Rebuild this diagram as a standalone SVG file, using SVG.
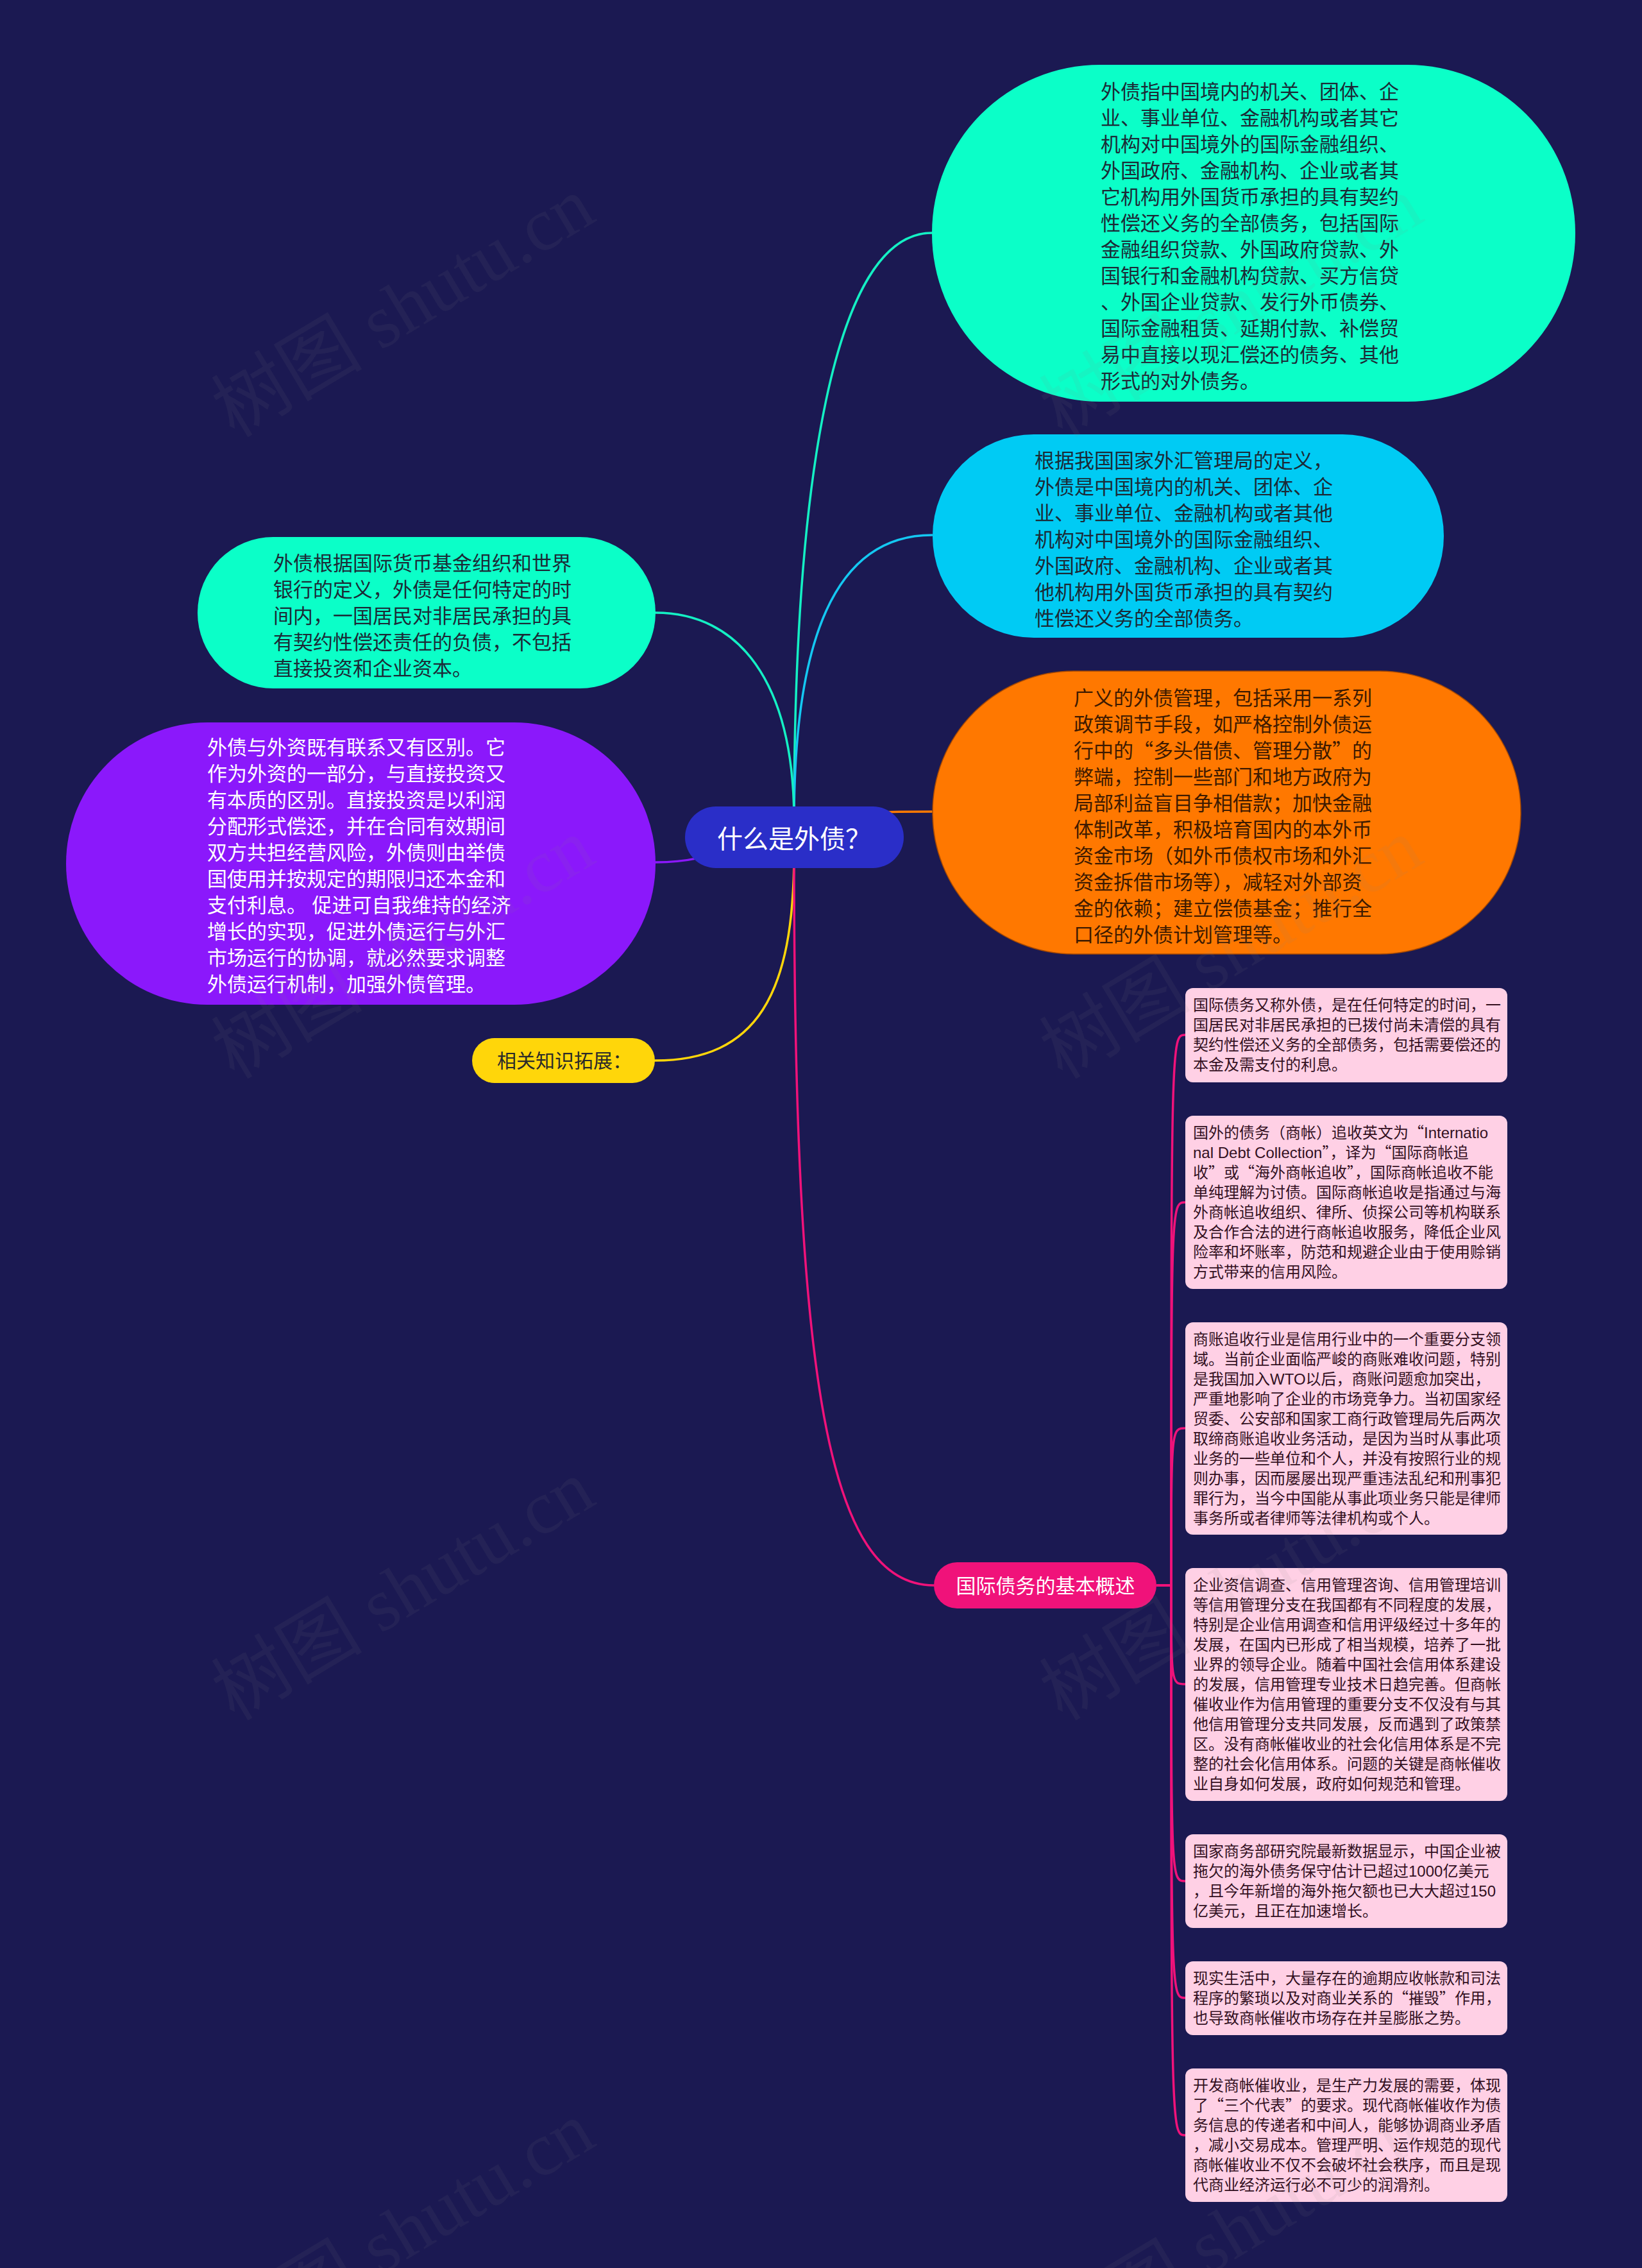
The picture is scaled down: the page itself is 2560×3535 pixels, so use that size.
<svg xmlns="http://www.w3.org/2000/svg" width="2560" height="3535" viewBox="0 0 2560 3535">
<style>
text{font-family:"Liberation Sans","Noto Sans CJK SC",sans-serif;}
.q{font-family:"Noto Sans CJK SC","Liberation Sans",sans-serif;}
.t31{font-size:31px;}
.t24{font-size:24px;fill:#33101f;}
.dk{fill:#1b2a36;}
.dko{fill:#3d1a00;}
.wh{fill:#ffffff;}
.c{fill:none;stroke-width:3.5;stroke-linecap:round;}
.leaf{fill:#ffd0e5;}
.lc{fill:none;stroke:#f0127a;stroke-width:3.5;}
.wm{font-family:"Liberation Serif","Noto Sans CJK SC",serif;font-size:118px;fill:#808080;fill-opacity:0.09;}
</style>
<rect x="0" y="0" width="2560" height="3535" fill="#1b1952"/>

<g id="connectors">
<path class="c" stroke="#14f0c4" d="M1238 1280 C1238 750 1300 363 1453 363"/>
<path class="c" stroke="#14c8f2" d="M1238 1280 C1238 1000 1300 834 1453 834"/>
<path class="c" stroke="#ff7a00" d="M1238 1268 C1350 1268 1350 1265 1453 1265"/>
<path class="c" stroke="#14f0c4" d="M1022 955 C1150 955 1238 1060 1238 1280"/>
<path class="c" stroke="#8b18fb" d="M1022 1344 C1130 1344 1130 1305 1238 1305"/>
<path class="c" stroke="#ffd60a" d="M1021 1653 C1180 1653 1238 1550 1238 1330"/>
<path class="c" stroke="#f0127a" d="M1238 1330 C1238 2150 1290 2471 1456 2471"/>
<path class="lc" d="M1803 2471 L1826 2471 C1826 1613 1826 1613 1848 1613"/>
<path class="lc" d="M1803 2471 L1826 2471 C1826 1874 1826 1874 1848 1874"/>
<path class="lc" d="M1803 2471 L1826 2471 C1826 2226 1826 2226 1848 2226"/>
<path class="lc" d="M1803 2471 L1826 2471 C1826 2625 1826 2625 1848 2625"/>
<path class="lc" d="M1803 2471 L1826 2471 C1826 2932 1826 2932 1848 2932"/>
<path class="lc" d="M1803 2471 L1826 2471 C1826 3114 1826 3114 1848 3114"/>
<path class="lc" d="M1803 2471 L1826 2471 C1826 3328 1826 3328 1848 3328"/>
</g>

<g id="center">
<rect x="1068" y="1257" width="341" height="96" rx="48" fill="#2a2ec8"/>
<text x="1238" y="1322" font-size="40" text-anchor="middle" class="wh">什么是外债？</text>
</g>

<g id="node-tr">
<rect x="1453" y="101" width="1003" height="525" rx="262" fill="#0bffc8"/>
<text class="t31 dk">
<tspan x="1716" y="154">外债指中国境内的机关、团体、企</tspan>
<tspan x="1716" y="195">业、事业单位、金融机构或者其它</tspan>
<tspan x="1716" y="236">机构对中国境外的国际金融组织、</tspan>
<tspan x="1716" y="277">外国政府、金融机构、企业或者其</tspan>
<tspan x="1716" y="318">它机构用外国货币承担的具有契约</tspan>
<tspan x="1716" y="359">性偿还义务的全部债务，包括国际</tspan>
<tspan x="1716" y="400">金融组织贷款、外国政府贷款、外</tspan>
<tspan x="1716" y="441">国银行和金融机构贷款、买方信贷</tspan>
<tspan x="1716" y="482">、外国企业贷款、发行外币债券、</tspan>
<tspan x="1716" y="523">国际金融租赁、延期付款、补偿贸</tspan>
<tspan x="1716" y="564">易中直接以现汇偿还的债务、其他</tspan>
<tspan x="1716" y="605">形式的对外债务。</tspan>
</text>
</g>

<g id="node-cyan">
<rect x="1454" y="677" width="797" height="317" rx="158" fill="#00cbf4"/>
<text class="t31 dk">
<tspan x="1613" y="729">根据我国国家外汇管理局的定义，</tspan>
<tspan x="1613" y="770">外债是中国境内的机关、团体、企</tspan>
<tspan x="1613" y="811">业、事业单位、金融机构或者其他</tspan>
<tspan x="1613" y="852">机构对中国境外的国际金融组织、</tspan>
<tspan x="1613" y="893">外国政府、金融机构、企业或者其</tspan>
<tspan x="1613" y="934">他机构用外国货币承担的具有契约</tspan>
<tspan x="1613" y="975">性偿还义务的全部债务。</tspan>
</text>
</g>

<g id="node-orange">
<rect x="1454" y="1046" width="917" height="441" rx="220" fill="#ff7800" stroke="#a84a00" stroke-width="1.5"/>
<text class="t31 dko">
<tspan x="1674" y="1099">广义的外债管理，包括采用一系列</tspan>
<tspan x="1674" y="1140">政策调节手段，如严格控制外债运</tspan>
<tspan x="1674" y="1181" class="q">行中的“多头借债、管理分散”的</tspan>
<tspan x="1674" y="1222">弊端，控制一些部门和地方政府为</tspan>
<tspan x="1674" y="1263">局部利益盲目争相借款；加快金融</tspan>
<tspan x="1674" y="1304">体制改革，积极培育国内的本外币</tspan>
<tspan x="1674" y="1345">资金市场（如外币债权市场和外汇</tspan>
<tspan x="1674" y="1386">资金拆借市场等），减轻对外部资</tspan>
<tspan x="1674" y="1427">金的依赖；建立偿债基金；推行全</tspan>
<tspan x="1674" y="1468">口径的外债计划管理等。</tspan>
</text>
</g>

<g id="node-left-teal">
<rect x="308" y="837" width="714" height="236" rx="118" fill="#0bffc8"/>
<text class="t31 dk">
<tspan x="426" y="889">外债根据国际货币基金组织和世界</tspan>
<tspan x="426" y="930">银行的定义，外债是任何特定的时</tspan>
<tspan x="426" y="971">间内，一国居民对非居民承担的具</tspan>
<tspan x="426" y="1012">有契约性偿还责任的负债，不包括</tspan>
<tspan x="426" y="1053">直接投资和企业资本。</tspan>
</text>
</g>

<g id="node-purple">
<rect x="103" y="1126" width="919" height="440" rx="220" fill="#8b18fb"/>
<text class="t31 wh">
<tspan x="323" y="1176">外债与外资既有联系又有区别。它</tspan>
<tspan x="323" y="1217">作为外资的一部分，与直接投资又</tspan>
<tspan x="323" y="1258">有本质的区别。直接投资是以利润</tspan>
<tspan x="323" y="1299">分配形式偿还，并在合同有效期间</tspan>
<tspan x="323" y="1340">双方共担经营风险，外债则由举债</tspan>
<tspan x="323" y="1381">国使用并按规定的期限归还本金和</tspan>
<tspan x="323" y="1422">支付利息。 促进可自我维持的经济</tspan>
<tspan x="323" y="1463">增长的实现，促进外债运行与外汇</tspan>
<tspan x="323" y="1504">市场运行的协调，就必然要求调整</tspan>
<tspan x="323" y="1545">外债运行机制，加强外债管理。</tspan>
</text>
</g>

<g id="node-yellow">
<rect x="736" y="1618" width="285" height="70" rx="35" fill="#ffd60a"/>
<text x="880" y="1664" font-size="30" text-anchor="middle" fill="#2a2a2a">相关知识拓展：</text>
</g>

<g id="node-pink">
<rect x="1456" y="2435" width="347" height="72" rx="36" fill="#f0127a"/>
<text x="1630" y="2483" text-anchor="middle" class="t31 wh">国际债务的基本概述</text>
</g>

<g id="leaf-1">
<rect class="leaf" x="1848" y="1540" width="502" height="147" rx="12"/>
<text class="t24">
<tspan x="1860" y="1575">国际债务又称外债，是在任何特定的时间，一</tspan>
<tspan x="1860" y="1606">国居民对非居民承担的已拨付尚未清偿的具有</tspan>
<tspan x="1860" y="1637">契约性偿还义务的全部债务，包括需要偿还的</tspan>
<tspan x="1860" y="1668">本金及需支付的利息。</tspan>
</text>
</g>

<g id="leaf-2">
<rect class="leaf" x="1848" y="1739" width="502" height="270" rx="12"/>
<text class="t24">
<tspan x="1860" y="1774">国外的债务（商帐）追收英文为<tspan class="q">“</tspan>Internatio</tspan>
<tspan x="1860" y="1805">nal Debt Collection<tspan class="q">”</tspan>，译为<tspan class="q">“</tspan>国际商帐追</tspan>
<tspan x="1860" y="1836" class="q">收”或“海外商帐追收”，国际商帐追收不能</tspan>
<tspan x="1860" y="1867">单纯理解为讨债。国际商帐追收是指通过与海</tspan>
<tspan x="1860" y="1898">外商帐追收组织、律所、侦探公司等机构联系</tspan>
<tspan x="1860" y="1929">及合作合法的进行商帐追收服务，降低企业风</tspan>
<tspan x="1860" y="1960">险率和坏账率，防范和规避企业由于使用赊销</tspan>
<tspan x="1860" y="1991">方式带来的信用风险。</tspan>
</text>
</g>

<g id="leaf-3">
<rect class="leaf" x="1848" y="2061" width="502" height="331" rx="12"/>
<text class="t24">
<tspan x="1860" y="2096">商账追收行业是信用行业中的一个重要分支领</tspan>
<tspan x="1860" y="2127">域。当前企业面临严峻的商账难收问题，特别</tspan>
<tspan x="1860" y="2158">是我国加入WTO以后，商账问题愈加突出，</tspan>
<tspan x="1860" y="2189">严重地影响了企业的市场竞争力。当初国家经</tspan>
<tspan x="1860" y="2220">贸委、公安部和国家工商行政管理局先后两次</tspan>
<tspan x="1860" y="2251">取缔商账追收业务活动，是因为当时从事此项</tspan>
<tspan x="1860" y="2282">业务的一些单位和个人，并没有按照行业的规</tspan>
<tspan x="1860" y="2313">则办事，因而屡屡出现严重违法乱纪和刑事犯</tspan>
<tspan x="1860" y="2344">罪行为，当今中国能从事此项业务只能是律师</tspan>
<tspan x="1860" y="2375">事务所或者律师等法律机构或个人。</tspan>
</text>
</g>

<g id="leaf-4">
<rect class="leaf" x="1848" y="2444" width="502" height="363" rx="12"/>
<text class="t24">
<tspan x="1860" y="2479">企业资信调查、信用管理咨询、信用管理培训</tspan>
<tspan x="1860" y="2510">等信用管理分支在我国都有不同程度的发展，</tspan>
<tspan x="1860" y="2541">特别是企业信用调查和信用评级经过十多年的</tspan>
<tspan x="1860" y="2572">发展，在国内已形成了相当规模，培养了一批</tspan>
<tspan x="1860" y="2603">业界的领导企业。随着中国社会信用体系建设</tspan>
<tspan x="1860" y="2634">的发展，信用管理专业技术日趋完善。但商帐</tspan>
<tspan x="1860" y="2665">催收业作为信用管理的重要分支不仅没有与其</tspan>
<tspan x="1860" y="2696">他信用管理分支共同发展，反而遇到了政策禁</tspan>
<tspan x="1860" y="2727">区。没有商帐催收业的社会化信用体系是不完</tspan>
<tspan x="1860" y="2758">整的社会化信用体系。问题的关键是商帐催收</tspan>
<tspan x="1860" y="2789">业自身如何发展，政府如何规范和管理。</tspan>
</text>
</g>

<g id="leaf-5">
<rect class="leaf" x="1848" y="2859" width="502" height="146" rx="12"/>
<text class="t24">
<tspan x="1860" y="2894">国家商务部研究院最新数据显示，中国企业被</tspan>
<tspan x="1860" y="2925">拖欠的海外债务保守估计已超过1000亿美元</tspan>
<tspan x="1860" y="2956">，且今年新增的海外拖欠额也已大大超过150</tspan>
<tspan x="1860" y="2987">亿美元，且正在加速增长。</tspan>
</text>
</g>

<g id="leaf-6">
<rect class="leaf" x="1848" y="3057" width="502" height="115" rx="12"/>
<text class="t24">
<tspan x="1860" y="3092">现实生活中，大量存在的逾期应收帐款和司法</tspan>
<tspan x="1860" y="3123" class="q">程序的繁琐以及对商业关系的“摧毁”作用，</tspan>
<tspan x="1860" y="3154">也导致商帐催收市场存在并呈膨胀之势。</tspan>
</text>
</g>

<g id="leaf-7">
<rect class="leaf" x="1848" y="3224" width="502" height="208" rx="12"/>
<text class="t24">
<tspan x="1860" y="3259">开发商帐催收业，是生产力发展的需要，体现</tspan>
<tspan x="1860" y="3290" class="q">了“三个代表”的要求。现代商帐催收作为债</tspan>
<tspan x="1860" y="3321">务信息的传递者和中间人，能够协调商业矛盾</tspan>
<tspan x="1860" y="3352">，减小交易成本。管理严明、运作规范的现代</tspan>
<tspan x="1860" y="3383">商帐催收业不仅不会破坏社会秩序，而且是现</tspan>
<tspan x="1860" y="3414">代商业经济运行必不可少的润滑剂。</tspan>
</text>
</g>

<g id="watermarks">
<text class="wm" text-anchor="middle" transform="translate(649 513) rotate(-31)">树图 shutu.cn</text>
<text class="wm" text-anchor="middle" transform="translate(1940 513) rotate(-31)">树图 shutu.cn</text>
<text class="wm" text-anchor="middle" transform="translate(649 1513) rotate(-31)">树图 shutu.cn</text>
<text class="wm" text-anchor="middle" transform="translate(1940 1513) rotate(-31)">树图 shutu.cn</text>
<text class="wm" text-anchor="middle" transform="translate(649 2513) rotate(-31)">树图 shutu.cn</text>
<text class="wm" text-anchor="middle" transform="translate(1940 2513) rotate(-31)">树图 shutu.cn</text>
<text class="wm" text-anchor="middle" transform="translate(649 3513) rotate(-31)">树图 shutu.cn</text>
<text class="wm" text-anchor="middle" transform="translate(1940 3513) rotate(-31)">树图 shutu.cn</text>
</g>
</svg>
